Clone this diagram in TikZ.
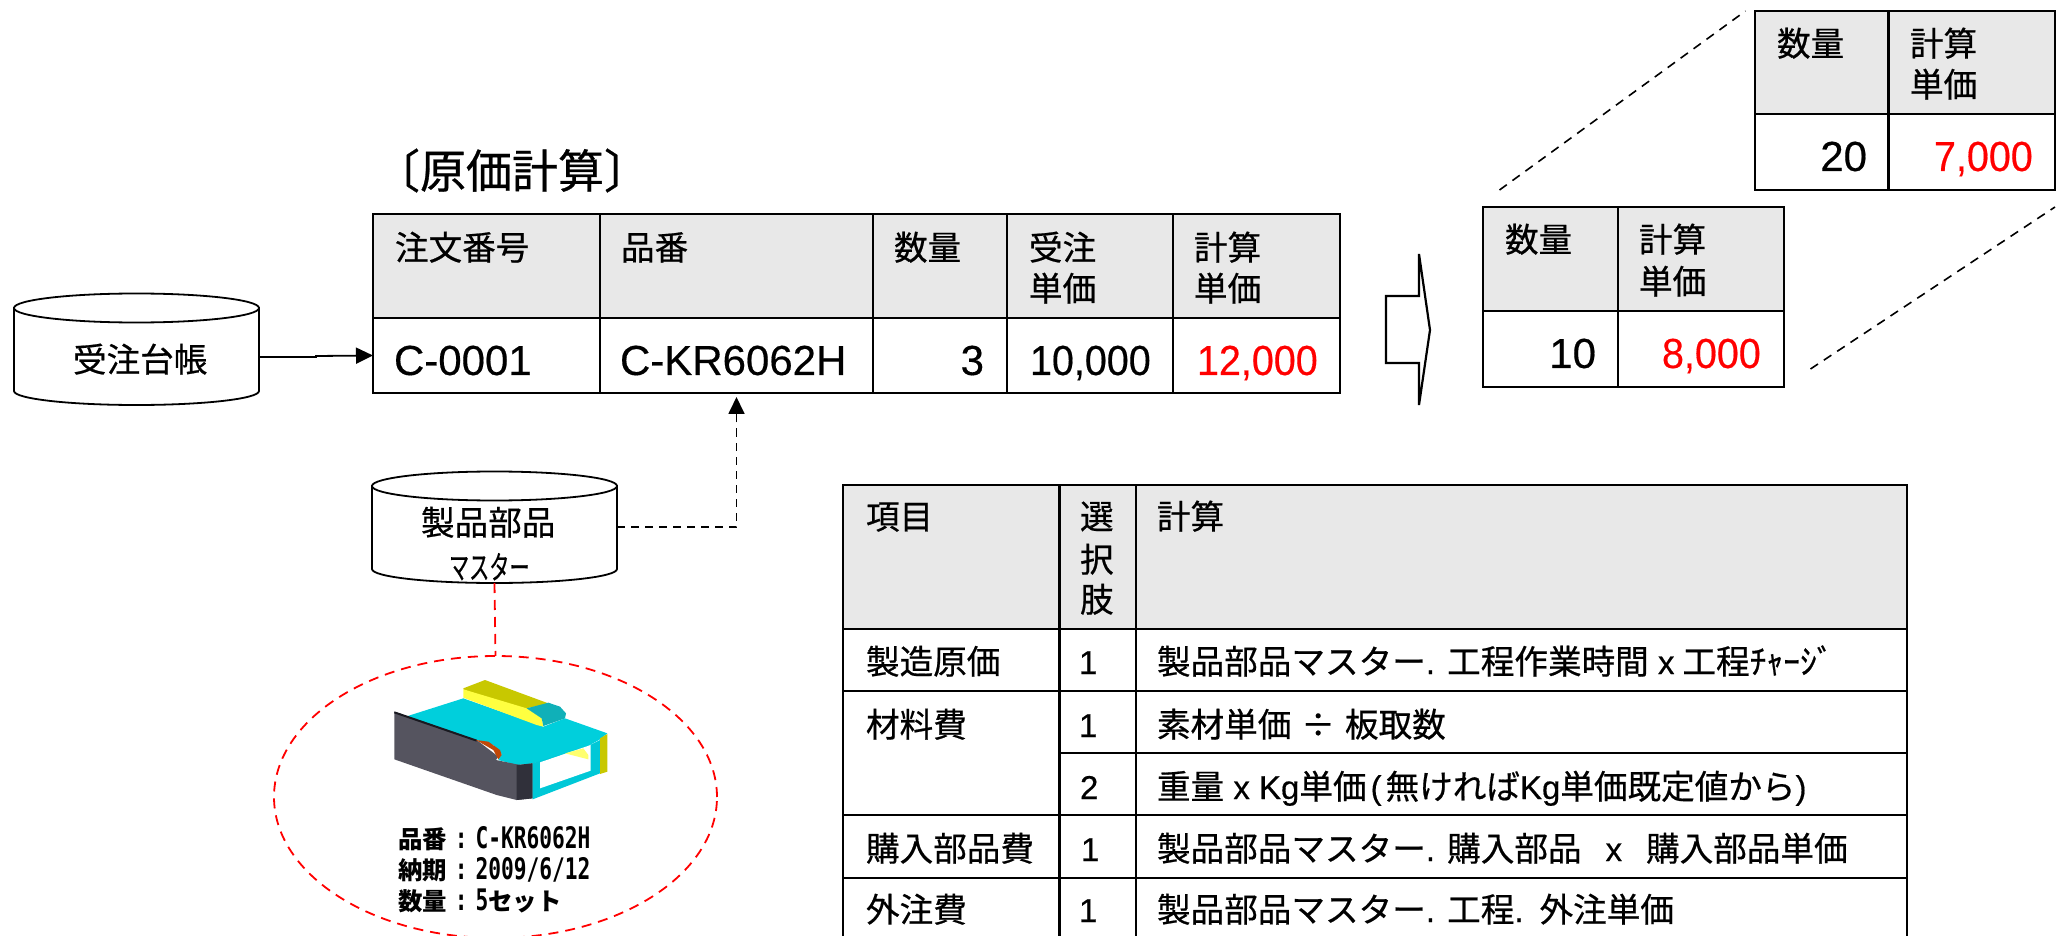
\documentclass[tikz,border=0pt]{standalone}
\usepackage{fontspec}
\usepackage{graphicx}
\usetikzlibrary{arrows.meta,shapes.geometric}
\setmainfont[FakeBold=0.4]{Liberation Sans}
\setmonofont{DejaVu Sans Mono}
\newfontfamily\cjk[FakeBold=0.6]{Noto Sans CJK JP}
\newfontfamily\cjkheavy{Noto Sans CJK JP}
\newcommand\J[1]{{\cjk\fontsize{16.8}{20}\selectfont #1}}
\newcommand\JT[1]{{\cjk\fontsize{23}{26}\selectfont #1}}
\newcommand\JB[1]{{\cjkheavy\bfseries\fontsize{12.2}{14}\selectfont #1}}
\newcommand\MB[1]{\scalebox{1}[1.4]{\ttfamily\bfseries\fontsize{10.6}{14}\selectfont #1}}
\newcommand\nar[1]{\scalebox{.94}[1]{#1}}
\definecolor{headgray}{HTML}{E8E8E8}
\definecolor{redtxt}{HTML}{FF0000}
\tikzset{
  cellhead/.style={draw=black,line width=1.4pt,fill=headgray,inner sep=0pt,outer sep=0pt},
  cellbody/.style={draw=black,line width=1.4pt,fill=white,inner sep=0pt,outer sep=0pt},
  txt/.style={anchor=base west,inner sep=0pt,outer sep=0pt,font=\fontsize{16.5}{20}\selectfont},
  val/.style={txt,font=\fontsize{21}{25}\selectfont},
  valr/.style={val,anchor=base east},
  cylline/.style={draw=black,line width=.9pt,fill=white},
  solidarrow/.style={draw=black,line width=.9pt,-{Triangle[length=8.5pt,width=8pt]}},
  dasharrow/.style={draw=black,line width=.9pt,dash pattern=on 4pt off 3pt,-{Triangle[length=8.5pt,width=8pt]},shorten >=2pt},
  zoomline/.style={draw=black,line width=.8pt,dash pattern=on 4.5pt off 3.5pt},
  reddash/.style={draw=red,line width=.9pt,dash pattern=on 5pt off 3.5pt},
  blockarrow/.style={draw=black,line width=1.1pt,fill=white,line join=miter},
}
% style, name, x0, y0, x1, y1
\newcommand\cell[6]{%
  \pgfmathsetmacro\cw{(#5-#3)*.5}\pgfmathsetmacro\ch{(#6-#4)*.5}%
  \node[#1,rectangle,minimum width=\cw pt,minimum height=\ch pt] (#2) at ({(#3+#5)/2},{(#4+#6)/2}) {};}
% name, x0, ytop, x1, ybot
\newcommand\cyl[5]{%
  \pgfmathsetmacro\cw{(#4-#2)*.5}\pgfmathsetmacro\ch{(#5-#3)*.5}%
  \pgfmathsetmacro\rx{(#4-#2)/2}%
  \draw[cylline] (#2,#3+15) -- (#2,#5-14) arc[start angle=180,end angle=0,x radius=\rx,y radius=14] -- (#4,#3+15) -- cycle;
  \draw[cylline] ({(#2+#4)/2},#3+15) ellipse[x radius=\rx,y radius=14.5];
  \node[rectangle,minimum width=\cw pt,minimum height=\ch pt,inner sep=0pt,outer sep=0pt] (#1) at ({(#2+#4)/2},{(#3+#5)/2}) {};}
\begin{document}
\begin{tikzpicture}[x=.5pt,y=-.5pt]
\useasboundingbox (0,0) rectangle (2058,936);

% title
\node[txt] (title) at (374,188) {\JT{〔原価計算〕}};

% main table
\cell{cellhead}{h1}{373}{214}{600}{318}
\cell{cellhead}{h2}{600}{214}{873}{318}
\cell{cellhead}{h3}{873}{214}{1007}{318}
\cell{cellhead}{h4}{1007}{214}{1173}{318}
\cell{cellhead}{h5}{1173}{214}{1340}{318}
\cell{cellbody}{b1}{373}{318}{600}{393}
\cell{cellbody}{b2}{600}{318}{873}{393}
\cell{cellbody}{b3}{873}{318}{1007}{393}
\cell{cellbody}{b4}{1007}{318}{1173}{393}
\cell{cellbody}{b5}{1173}{318}{1340}{393}
\node[txt] (t1) at (395,260) {\J{注文番号}};
\node[txt] (t2) at (621,260) {\J{品番}};
\node[txt] (t3) at (894,260) {\J{数量}};
\node[txt] (t4a) at (1029,260) {\J{受注}};
\node[txt] (t4b) at (1029,301) {\J{単価}};
\node[txt] (t5a) at (1194,260) {\J{計算}};
\node[txt] (t5b) at (1194,301) {\J{単価}};
\node[val] (v1) at (394,375) {C-0001};
\node[val] (v2) at (620,375) {C-KR6062H};
\node[valr] (v3) at (984,375) {3};
\node[val] (v4) at (1030,375) {\nar{10,000}};
\node[val,text=redtxt] (v5) at (1197,375) {\nar{12,000}};

% cylinders
\cyl{c1}{14}{293}{259}{405}
\node[txt] (c1t) at (73,372) {\J{受注台帳}};
\cyl{c2}{372}{471}{617}{583}
\node[txt] (c2t) at (421,535) {\J{製品部品}};
\node[txt] (c2u) at (449,579) {\scalebox{.6}[.95]{\J{マスター}}};

% connectors
\coordinate (c1step) at (316,357);
\draw[solidarrow] ([yshift=-4pt]c1.east) -- (c1step) -- (316,356) -- (b1.west);
\draw[dasharrow] (c2.east) -| (b2.south);

% oval + part
\node[ellipse,reddash,minimum width=221.5pt,minimum height=141pt,inner sep=0pt,outer sep=0pt] (oval) at (495.5,797) {};
\draw[reddash] (c2.south) -- (oval.north);

\begin{scope}[shift={(250,600)},x=.16667pt,y=-.16667pt]
  \fill[color={rgb,255:red,0;green,207;blue,220}] (470,349) -- (640,295) -- (880,380) -- (945,355) -- (1072,400) -- (1050,418) -- (1020,435) -- (945,465) -- (850,490) -- (800,495) -- (745,480) -- (755,462) -- (730,435) -- (680,420) -- cycle;
  \fill[color={rgb,255:red,85;green,84;blue,95}] (433,335) -- (680,420) -- (745,470) -- (738,480) -- (810,495) -- (848,490) -- (848,595) -- (800,600) -- (740,585) -- (433,478) -- cycle;
  \fill[color={rgb,255:red,48;green,48;blue,58}] (800,495) -- (848,490) -- (848,595) -- (800,600) -- cycle;
  \draw[color={rgb,255:red,25;green,25;blue,32},line width=1pt] (433,337) -- (680,422);
  \fill[color={rgb,255:red,192;green,72;blue,8}] (678,420) -- (715,425) -- (750,450) -- (755,465) -- (745,478) -- (730,450) -- cycle;
  \fill[color={rgb,255:red,200;green,200;blue,0}] (640,265) -- (705,240) -- (895,310) -- (830,325) -- (875,355) -- (640,268) -- cycle;
  \fill[color={rgb,255:red,255;green,255;blue,64}] (640,268) -- (830,325) -- (875,355) -- (880,380) -- (860,375) -- (640,293) -- cycle;
  \fill[color={rgb,255:red,16;green,176;blue,184}] (830,325) -- (895,308) -- (930,320) -- (948,340) -- (945,355) -- (880,378) -- (875,355) -- cycle;
  \fill[color={rgb,255:red,0;green,200;blue,215}] (848,490) -- (1020,435) -- (1050,420) -- (1050,520) -- (848,598) -- cycle;
  \fill[white] (870,487) -- (1022,435) -- (1022,512) -- (870,565) -- cycle;
  \fill[color={rgb,255:red,255;green,255;blue,110}] (945,460) -- (1000,445) -- (1015,465) -- (1015,478) -- cycle;
  \fill[color={rgb,255:red,200;green,200;blue,0}] (1050,415) -- (1072,402) -- (1072,515) -- (1050,522) -- cycle;
\end{scope}

\node[txt] (p1) at (398,848) {\JB{品番}\hspace{4pt}\MB{:}\hspace{4pt}\MB{C-KR6062H}};
\node[txt] (p2) at (398,879) {\JB{納期}\hspace{4pt}\MB{:}\hspace{4pt}\MB{2009/6/12}};
\node[txt] (p3) at (398,910) {\JB{数量}\hspace{4pt}\MB{:}\hspace{4pt}\MB{5}\JB{セット}};

% block arrow
\node[inner sep=0pt,outer sep=0pt] (ba) at (1386,330) {};
\draw[blockarrow] (ba.center) ++(0,-34) -- (1419,296) -- (1419,254) -- (1430,330) -- (1419,405) -- (1419,363) -- (1386,363) -- cycle;

% table B (10)
\cell{cellhead}{bh1}{1483}{207}{1618}{311}
\cell{cellhead}{bh2}{1618}{207}{1784}{311}
\cell{cellbody}{bb1}{1483}{311}{1618}{387}
\cell{cellbody}{bb2}{1618}{311}{1784}{387}
\node[txt] (bt1) at (1505,252) {\J{数量}};
\node[txt] (bt2) at (1639,252) {\J{計算}};
\node[txt] (bt3) at (1639,294) {\J{単価}};
\node[valr] (bv1) at (1596,368) {10};
\node[val,text=redtxt] (bv2) at (1662,368) {\nar{8,000}};

% table A (20)
\cell{cellhead}{ah1}{1755}{11}{1888.5}{114}
\cell{cellhead}{ah2}{1888.5}{11}{2055}{114}
\cell{cellbody}{ab1}{1755}{114}{1888.5}{190}
\cell{cellbody}{ab2}{1888.5}{114}{2055}{190}
\node[txt] (at1) at (1777,56) {\J{数量}};
\node[txt] (at2) at (1910,56) {\J{計算}};
\node[txt] (at3) at (1910,97) {\J{単価}};
\node[valr] (av1) at (1867,171) {20};
\node[val,text=redtxt] (av2) at (1934,171) {\nar{7,000}};

% zoom lines
\coordinate (z1a) at (1499.5,190);
\coordinate (z1b) at (1745.5,11);
\coordinate (z2a) at (1810.5,369);
\coordinate (z2b) at (2055,207);
\draw[zoomline] (z1a) -- (z1b);
\draw[zoomline] (z2a) -- (z2b);

% big table
\cell{cellhead}{Bh1}{843}{485}{1059.5}{629}
\cell{cellhead}{Bh2}{1059.5}{485}{1136}{629}
\cell{cellhead}{Bh3}{1136}{485}{1907}{629}
\cell{cellbody}{B11}{843}{629}{1059.5}{691}
\cell{cellbody}{B12}{1059.5}{629}{1136}{691}
\cell{cellbody}{B13}{1136}{629}{1907}{691}
\cell{cellbody}{B21}{843}{691}{1059.5}{815}
\cell{cellbody}{B22}{1059.5}{691}{1136}{753}
\cell{cellbody}{B23}{1136}{691}{1907}{753}
\cell{cellbody}{B32}{1059.5}{753}{1136}{815}
\cell{cellbody}{B33}{1136}{753}{1907}{815}
\cell{cellbody}{B41}{843}{815}{1059.5}{878}
\cell{cellbody}{B42}{1059.5}{815}{1136}{878}
\cell{cellbody}{B43}{1136}{815}{1907}{878}
\cell{cellbody}{B51}{843}{878}{1059.5}{945}
\cell{cellbody}{B52}{1059.5}{878}{1136}{945}
\cell{cellbody}{B53}{1136}{878}{1907}{945}

\node[txt] (T1) at (866,529) {\J{項目}};
\node[txt] (T2a) at (1080,529) {\J{選}};
\node[txt] (T2b) at (1080,572) {\J{択}};
\node[txt] (T2c) at (1080,612) {\J{肢}};
\node[txt] (T3) at (1157,529) {\J{計算}};

\node[txt] (R1a) at (866,674) {\J{製造原価}};
\node[txt] (R1b) at (1079,674) {1};
\node[txt] (R1c) at (1157,674) {\J{製品部品マスター}. \J{工程作業時間} x\hspace{4pt}\J{工程ﾁｬｰｼﾞ}};

\node[txt] (R2a) at (866,737) {\J{材料費}};
\node[txt] (R2b) at (1079,737) {1};
\node[txt] (R2c) at (1157,737) {\J{素材単価}\hspace{5pt}\J{÷}\hspace{5pt}\J{板取数}};

\node[txt] (R3b) at (1080,799) {2};
\node[txt] (R3c) at (1157,799) {\J{重量} x Kg\J{単価}\hspace{2pt}(\hspace{2pt}\J{無ければ}Kg\J{単価既定値から})};

\node[txt] (R4a) at (866,861) {\J{購入部品費}};
\node[txt] (R4b) at (1081,861) {1};
\node[txt] (R4c) at (1157,861) {\J{製品部品マスター}. \J{購入部品}\hspace{12pt}x\hspace{12pt}\J{購入部品単価}};

\node[txt] (R5a) at (866,922) {\J{外注費}};
\node[txt] (R5b) at (1079,922) {1};
\node[txt] (R5c) at (1157,922) {\J{製品部品マスター}. \J{工程}.\hspace{8pt}\J{外注単価}};
\end{tikzpicture}
\end{document}
